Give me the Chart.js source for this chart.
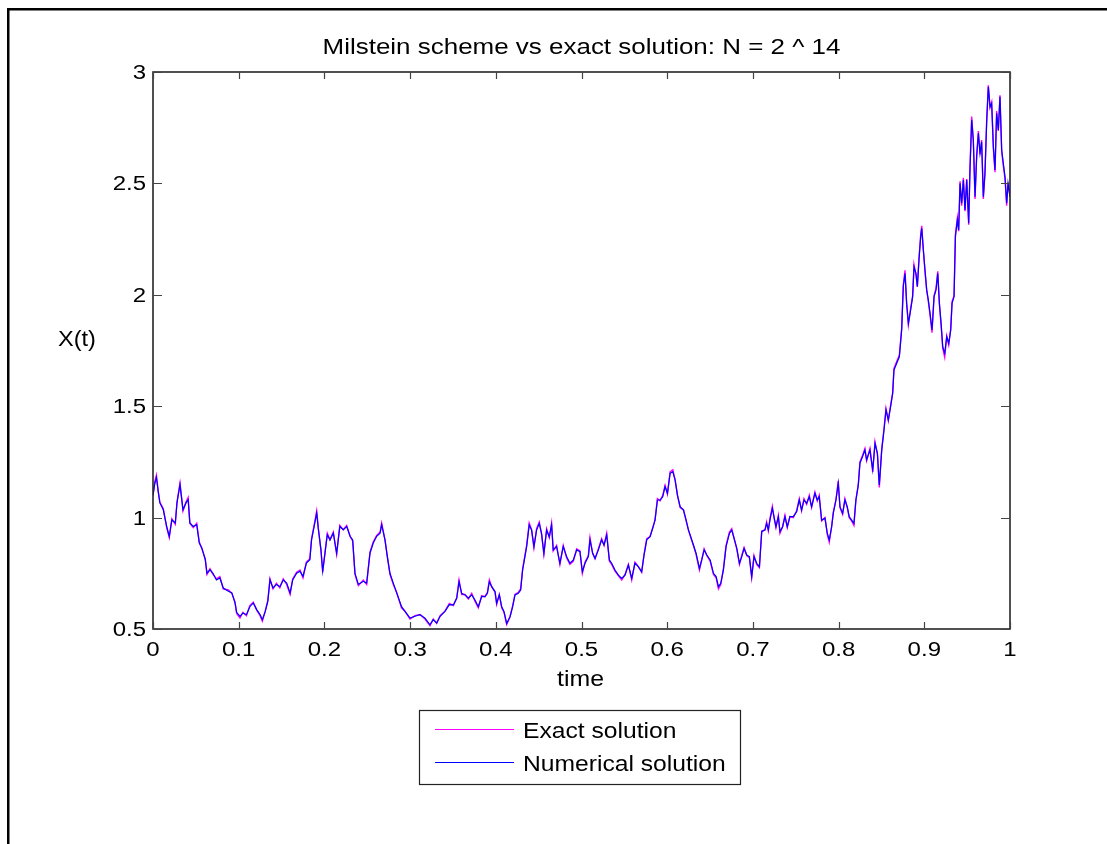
<!DOCTYPE html>
<html>
<head>
<meta charset="utf-8">
<title>Milstein scheme</title>
<script src="https://cdn.jsdelivr.net/npm/chart.js@4.4.1/dist/chart.umd.min.js"></script>
<style>
  html, body { margin: 0; padding: 0; background: #fff; }
  #wrap { width: 1107px; height: 844px; }
</style>
</head>
<body>
<div id="wrap"><canvas id="myChart" width="1107" height="844"></canvas></div>
<script>
const titleText = 'Milstein scheme vs exact solution: N = 2 ^ 14';
const xLabel = 'time';
const yLabel = 'X(t)';
const seriesNames = ['Exact solution', 'Numerical solution'];

const xTicks = [0, 0.1, 0.2, 0.3, 0.4, 0.5, 0.6, 0.7, 0.8, 0.9, 1];
const yTicks = [0.5, 1, 1.5, 2, 2.5, 3];

// sample times of the path
const times = [
  0, 0.002, 0.004, 0.006, 0.008, 0.012, 0.016, 0.019, 0.022, 0.026,
  0.028, 0.0315, 0.035, 0.0385, 0.041, 0.043, 0.047, 0.051, 0.054, 0.057,
  0.061, 0.063, 0.0665, 0.070, 0.074, 0.078, 0.082, 0.088, 0.092, 0.0957,
  0.0976, 0.1015, 0.105, 0.109, 0.113, 0.117, 0.121, 0.125, 0.1276, 0.131,
  0.134, 0.1365, 0.140, 0.144, 0.148, 0.152, 0.156, 0.160, 0.163, 0.1676,
  0.1715, 0.175, 0.179, 0.183, 0.185, 0.188, 0.191, 0.193, 0.196, 0.198,
  0.2007, 0.2034, 0.2065, 0.2104, 0.2143, 0.218, 0.222, 0.226, 0.230, 0.233,
  0.2357, 0.2396, 0.2454, 0.2493, 0.2532, 0.257, 0.261, 0.265, 0.2668, 0.2707,
  0.2734, 0.2765, 0.2804, 0.2843, 0.290, 0.294, 0.2999, 0.3057, 0.3115, 0.3174,
  0.3232, 0.327, 0.331, 0.335, 0.3407, 0.3458,
  0.3505, 0.3544, 0.3571, 0.3602, 0.3641, 0.368, 0.3719, 0.3757, 0.3796, 0.3835,
  0.3874, 0.3902, 0.3925, 0.3952, 0.3991, 0.401, 0.4041, 0.4069, 0.4096, 0.4127,
  0.4166, 0.4197, 0.4224, 0.4263, 0.429, 0.4313, 0.434, 0.436, 0.439, 0.4418,
  0.4445, 0.4476, 0.4507, 0.4534, 0.4561, 0.4593, 0.4624, 0.4651, 0.467, 0.4709,
  0.4748, 0.4787, 0.4826, 0.4865,
  0.4905, 0.4944, 0.4982, 0.501, 0.5041, 0.508, 0.5099, 0.513, 0.5158, 0.5197,
  0.5235, 0.5263, 0.5294, 0.5325, 0.5352, 0.5391, 0.543, 0.5469, 0.5508, 0.5547,
  0.5586, 0.5624, 0.5663, 0.5702, 0.573, 0.5761, 0.58, 0.5831, 0.5858, 0.5886,
  0.5917, 0.5948, 0.5975, 0.6003, 0.6034, 0.6065, 0.6092, 0.612, 0.6151, 0.619,
  0.6221, 0.6248, 0.6275, 0.6306, 0.6337, 0.6376, 0.6403, 0.6431, 0.6462, 0.6501,
  0.654, 0.6571, 0.6598, 0.6625, 0.6656, 0.6687, 0.6726, 0.6753, 0.6781, 0.6812,
  0.6843, 0.687, 0.6897, 0.6928, 0.6959, 0.6986, 0.7013, 0.7044, 0.7076,
  0.7103, 0.7141, 0.716, 0.718, 0.7199, 0.7227, 0.7246, 0.7269, 0.7297, 0.7316,
  0.7347, 0.7374, 0.7401, 0.7432, 0.7471, 0.751, 0.7541, 0.7568, 0.7596, 0.7627,
  0.7658, 0.7685, 0.7724, 0.7751, 0.7774, 0.7802, 0.7841, 0.7868, 0.7891, 0.7919,
  0.7938, 0.7969, 0.7996, 0.8016, 0.8047, 0.8074, 0.8101, 0.8124, 0.8152, 0.8179,
  0.8202, 0.823, 0.8249, 0.828, 0.8307, 0.8327,
  0.8366, 0.8398, 0.8425, 0.8453, 0.8475, 0.8503, 0.853, 0.8553, 0.858, 0.8607,
  0.8631, 0.8646, 0.8677, 0.8709, 0.8736, 0.8755, 0.8775, 0.8794, 0.8814, 0.8841,
  0.8864, 0.888, 0.8903, 0.8919, 0.8938, 0.8958, 0.897, 0.8989, 0.9008, 0.9028,
  0.9047, 0.9067, 0.909, 0.9114, 0.9137, 0.9157, 0.9176, 0.9196, 0.9215, 0.9238,
  0.9262, 0.9285, 0.9308, 0.9324, 0.9347, 0.9363, 0.9386, 0.9401, 0.9417, 0.9436,
  0.9456, 0.9475, 0.9495, 0.9518, 0.9533, 0.9553, 0.9572, 0.9592, 0.9611, 0.9631,
  0.965, 0.9669, 0.9689, 0.9708, 0.9728, 0.9747, 0.9767, 0.9786, 0.9806, 0.9825,
  0.9844, 0.9864, 0.9883, 0.9903, 0.9922, 0.9942, 0.9961, 0.9977, 1.0
];

// Milstein approximation
const numerical = [
  1.10, 1.15, 1.18, 1.12, 1.066, 1.035, 0.96, 0.916, 0.99, 0.976,
  1.066, 1.148, 1.035, 1.066, 1.08, 0.976, 0.96, 0.968, 0.886, 0.864,
  0.811, 0.75, 0.766, 0.75, 0.72, 0.729, 0.684, 0.669, 0.662, 0.617,
  0.575, 0.557, 0.572, 0.564, 0.60, 0.617, 0.587, 0.564, 0.542, 0.579,
  0.624, 0.721, 0.684, 0.70, 0.69, 0.72, 0.706, 0.662, 0.72, 0.75,
  0.759, 0.736, 0.796, 0.811, 0.90, 0.96, 1.02, 0.946, 0.856, 0.759,
  0.84, 0.923, 0.90, 0.93, 0.84, 0.96, 0.946, 0.96, 0.916, 0.90,
  0.75, 0.70, 0.714, 0.706, 0.84, 0.886, 0.916, 0.93, 0.968, 0.90,
  0.826, 0.75, 0.706, 0.662, 0.60, 0.579, 0.549, 0.557, 0.564, 0.549,
  0.519, 0.542, 0.527, 0.557, 0.579, 0.609,
  0.608, 0.638, 0.712, 0.66, 0.653, 0.638, 0.653, 0.63, 0.60, 0.645,
  0.645, 0.66, 0.712, 0.69, 0.668, 0.615, 0.653, 0.60, 0.578, 0.525,
  0.555, 0.60, 0.653, 0.66, 0.675, 0.765, 0.825, 0.87, 0.967, 0.944,
  0.87, 0.944, 0.974, 0.929, 0.84, 0.944, 0.914, 0.967, 0.855, 0.87,
  0.795, 0.87, 0.825, 0.795,
  0.81, 0.855, 0.847, 0.757, 0.795, 0.825, 0.90, 0.84, 0.817, 0.855,
  0.90, 0.877, 0.922, 0.81, 0.795, 0.765, 0.742, 0.727, 0.742, 0.787,
  0.727, 0.795, 0.78, 0.757, 0.832, 0.90, 0.914, 0.952, 0.989, 1.079,
  1.079, 1.094, 1.139, 1.109, 1.199, 1.206, 1.169, 1.10, 1.049, 1.034,
  0.989, 0.944, 0.914, 0.877, 0.84, 0.772, 0.81, 0.855, 0.832, 0.81,
  0.75, 0.735, 0.69, 0.705, 0.765, 0.87, 0.929, 0.944, 0.907, 0.862,
  0.795, 0.825, 0.862, 0.832, 0.825, 0.735, 0.825, 0.795, 0.78,
  0.937, 0.945, 0.974, 0.945, 0.989, 1.042, 1.004, 0.959, 1.004, 0.937,
  0.959, 1.004, 0.959, 1.004, 1.004, 1.026, 1.079, 1.034, 1.079, 1.064,
  1.094, 1.049, 1.109, 1.079, 1.094, 0.989, 0.997, 0.93, 0.90, 0.959,
  1.019, 1.079, 1.154, 1.049, 1.019, 1.079, 1.049, 1.004, 0.989, 0.974,
  1.079, 1.146, 1.244, 1.274, 1.303, 1.259,
  1.303, 1.214, 1.333, 1.288, 1.146, 1.303, 1.393, 1.483, 1.438, 1.498,
  1.558, 1.662, 1.692, 1.722, 1.842, 2.037, 2.096, 1.962, 1.872, 1.932,
  1.992, 2.126, 2.096, 2.037, 2.156, 2.261, 2.298, 2.201, 2.111, 2.022,
  1.977, 1.917, 1.842, 1.992, 2.022, 2.096, 1.962, 1.872, 1.767, 1.737,
  1.812, 1.782, 1.842, 1.962, 1.992, 2.261, 2.336, 2.291, 2.50, 2.411,
  2.515, 2.381, 2.515, 2.321, 2.56, 2.785, 2.695, 2.44, 2.62, 2.725,
  2.635, 2.687, 2.44, 2.545, 2.777, 2.934, 2.844, 2.859, 2.665, 2.56,
  2.815, 2.74, 2.889, 2.65, 2.59, 2.53, 2.411, 2.50, 2.44
];

// exact solution at the same times
const exact = [
  1.10, 1.16, 1.19, 1.12, 1.07, 1.04, 0.955, 0.91, 0.995, 0.97,
  1.07, 1.155, 1.03, 1.07, 1.09, 0.975, 0.955, 0.975, 0.89, 0.86,
  0.815, 0.745, 0.77, 0.745, 0.725, 0.735, 0.68, 0.675, 0.66, 0.62,
  0.57, 0.55, 0.575, 0.56, 0.605, 0.62, 0.585, 0.56, 0.535, 0.58,
  0.63, 0.725, 0.68, 0.705, 0.685, 0.725, 0.70, 0.655, 0.725, 0.755,
  0.765, 0.73, 0.80, 0.815, 0.905, 0.965, 1.03, 0.95, 0.85, 0.755,
  0.845, 0.93, 0.90, 0.935, 0.835, 0.965, 0.945, 0.965, 0.915, 0.895,
  0.745, 0.695, 0.72, 0.70, 0.845, 0.89, 0.92, 0.935, 0.975, 0.90,
  0.825, 0.745, 0.70, 0.665, 0.595, 0.58, 0.545, 0.56, 0.565, 0.545,
  0.515, 0.545, 0.525, 0.56, 0.58, 0.615,
  0.605, 0.64, 0.72, 0.655, 0.655, 0.635, 0.66, 0.625, 0.595, 0.65,
  0.645, 0.665, 0.72, 0.69, 0.665, 0.61, 0.655, 0.595, 0.575, 0.52,
  0.555, 0.605, 0.655, 0.665, 0.68, 0.77, 0.83, 0.875, 0.975, 0.945,
  0.865, 0.95, 0.98, 0.925, 0.835, 0.95, 0.91, 0.975, 0.85, 0.875,
  0.79, 0.875, 0.82, 0.79,
  0.805, 0.86, 0.85, 0.75, 0.80, 0.83, 0.91, 0.84, 0.815, 0.86,
  0.905, 0.875, 0.93, 0.805, 0.79, 0.76, 0.74, 0.72, 0.745, 0.79,
  0.72, 0.80, 0.78, 0.755, 0.835, 0.905, 0.915, 0.955, 0.99, 1.085,
  1.075, 1.10, 1.145, 1.105, 1.205, 1.215, 1.17, 1.10, 1.045, 1.035,
  0.985, 0.945, 0.91, 0.875, 0.835, 0.765, 0.81, 0.86, 0.83, 0.805,
  0.745, 0.73, 0.68, 0.70, 0.77, 0.875, 0.935, 0.95, 0.905, 0.86,
  0.79, 0.83, 0.865, 0.83, 0.82, 0.73, 0.83, 0.79, 0.775,
  0.94, 0.945, 0.98, 0.94, 0.995, 1.05, 1.0, 0.955, 1.01, 0.93,
  0.96, 1.01, 0.955, 1.005, 1.0, 1.03, 1.085, 1.03, 1.085, 1.06,
  1.10, 1.045, 1.115, 1.075, 1.10, 0.985, 1.0, 0.925, 0.89, 0.96,
  1.025, 1.08, 1.165, 1.045, 1.015, 1.085, 1.045, 1.0, 0.985, 0.965,
  1.08, 1.15, 1.25, 1.28, 1.31, 1.255,
  1.31, 1.205, 1.34, 1.285, 1.135, 1.305, 1.40, 1.49, 1.435, 1.505,
  1.56, 1.67, 1.70, 1.73, 1.85, 2.045, 2.11, 1.96, 1.865, 1.94,
  1.995, 2.135, 2.09, 2.035, 2.165, 2.27, 2.31, 2.20, 2.105, 2.02,
  1.97, 1.91, 1.83, 1.995, 2.03, 2.105, 1.96, 1.865, 1.76, 1.72,
  1.815, 1.775, 1.845, 1.97, 1.995, 2.27, 2.345, 2.285, 2.51, 2.40,
  2.525, 2.375, 2.52, 2.315, 2.57, 2.80, 2.69, 2.43, 2.625, 2.735,
  2.63, 2.695, 2.43, 2.55, 2.785, 2.94, 2.84, 2.865, 2.655, 2.55,
  2.825, 2.735, 2.895, 2.645, 2.58, 2.52, 2.40, 2.505, 2.44
];

const seriesColors = ['#ff00ff', '#0000ff'];

// text is drawn slightly wider than the font's natural width
function wideText(ctx, str, x, y, size, align, sx) {
  ctx.save();
  ctx.font = size + 'px "Liberation Sans", Arial, Helvetica, sans-serif';
  ctx.fillStyle = '#000';
  ctx.textBaseline = 'alphabetic';
  const w = ctx.measureText(str).width * sx;
  let left = x;
  if (align === 'center') left = x - w / 2;
  else if (align === 'right') left = x - w;
  ctx.translate(left, y);
  ctx.scale(sx, 1);
  ctx.textAlign = 'left';
  ctx.fillText(str, 0, 0);
  ctx.restore();
}

const decorations = {
  id: 'decorations',
  beforeDatasetsDraw(chart) {
    const ctx = chart.ctx;
    // outer frame: left and top edges only
    ctx.save();
    ctx.fillStyle = '#000';
    ctx.fillRect(7, 8, 2.5, chart.height - 8);
    ctx.fillRect(7, 8, chart.width - 7, 2.5);
    ctx.restore();
  },
  afterDatasetsDraw(chart) {
    const ctx = chart.ctx;
    const xs = chart.scales.x, ys = chart.scales.y;
    const a = chart.chartArea;

    ctx.save();
    // axes box
    ctx.strokeStyle = '#262626';
    ctx.lineWidth = 1.6;
    ctx.strokeRect(a.left, a.top, a.right - a.left, a.bottom - a.top);

    // inward ticks on all four sides
    ctx.strokeStyle = '#444';
    ctx.lineWidth = 1.2;
    ctx.beginPath();
    xTicks.forEach(v => {
      const px = Math.round(xs.getPixelForValue(v)) + 0.5;
      ctx.moveTo(px, a.bottom); ctx.lineTo(px, a.bottom - 7);
      ctx.moveTo(px, a.top); ctx.lineTo(px, a.top + 7);
    });
    yTicks.forEach(v => {
      const py = Math.round(ys.getPixelForValue(v)) + 0.5;
      ctx.moveTo(a.left, py); ctx.lineTo(a.left + 9, py);
      ctx.moveTo(a.right, py); ctx.lineTo(a.right - 9, py);
    });
    ctx.stroke();
    ctx.restore();

    // tick labels
    xTicks.forEach(v => {
      wideText(ctx, String(v), xs.getPixelForValue(v), a.bottom + 27, 20, 'center', 1.2);
    });
    yTicks.forEach(v => {
      wideText(ctx, String(v), a.left - 7, ys.getPixelForValue(v) + 7, 20, 'right', 1.2);
    });

    // title and axis labels
    wideText(ctx, titleText, (a.left + a.right) / 2, 54, 22, 'center', 1.18);
    wideText(ctx, xLabel, (a.left + a.right) / 2 - 1, 686, 22, 'center', 1.13);
    wideText(ctx, yLabel, 77, 346, 22, 'center', 1.07);

    // legend box
    ctx.save();
    ctx.fillStyle = '#fff';
    ctx.fillRect(419.5, 710.5, 321, 74);
    ctx.strokeStyle = '#222';
    ctx.lineWidth = 1.2;
    ctx.strokeRect(419.5, 710.5, 321, 74);
    const rows = [729.5, 762.5];
    rows.forEach((ry, i) => {
      ctx.strokeStyle = seriesColors[i];
      ctx.lineWidth = 1;
      ctx.beginPath();
      ctx.moveTo(435, ry); ctx.lineTo(514, ry);
      ctx.stroke();
    });
    ctx.restore();
    wideText(ctx, seriesNames[0], 523, 738, 22, 'left', 1.12);
    wideText(ctx, seriesNames[1], 523, 771, 22, 'left', 1.12);
  }
};

const ctx = document.getElementById('myChart').getContext('2d');

new Chart(ctx, {
  type: 'line',
  data: {
    datasets: [{
      label: seriesNames[0],
      data: times.map((t, i) => ({ x: t, y: exact[i] })),
      borderColor: seriesColors[0],
      borderWidth: 1.4,
      pointRadius: 0,
      tension: 0,
      order: 1
    }, {
      label: seriesNames[1],
      data: times.map((t, i) => ({ x: t, y: numerical[i] })),
      borderColor: seriesColors[1],
      borderWidth: 1.2,
      pointRadius: 0,
      tension: 0,
      order: 0
    }]
  },
  options: {
    responsive: false,
    animation: false,
    events: [],
    layout: {
      padding: { left: 153, top: 72, right: 97, bottom: 215 }
    },
    scales: {
      x: { type: 'linear', min: 0, max: 1, display: false },
      y: { type: 'linear', min: 0.5, max: 3, display: false }
    },
    plugins: {
      legend: { display: false },
      title: { display: false },
      tooltip: { enabled: false }
    }
  },
  plugins: [decorations]
});
</script>
</body>
</html>
